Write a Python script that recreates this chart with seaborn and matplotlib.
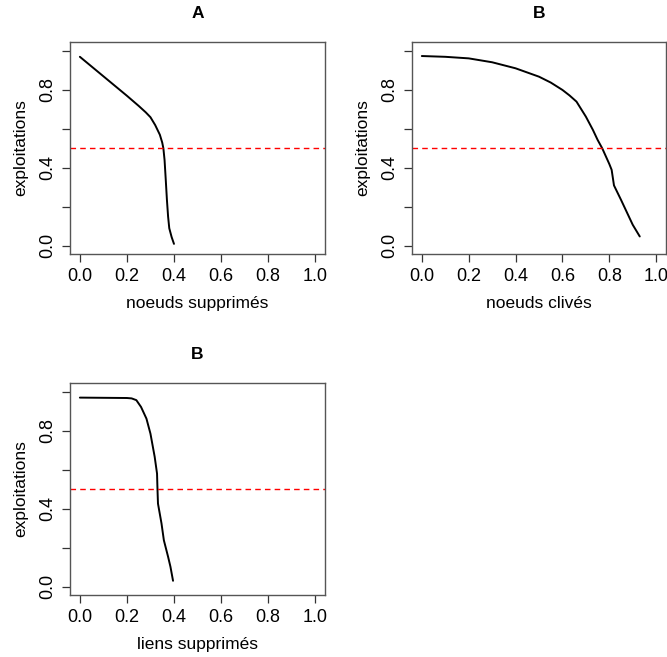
import numpy as np
import pandas as pd
import matplotlib
matplotlib.use("Agg")
import matplotlib.pyplot as plt
import seaborn as sns

sns.set_style("ticks")
plt.rcParams['font.family'] = ['Liberation Sans', 'DejaVu Sans']
plt.rcParams['text.color'] = 'black'
plt.rcParams['axes.labelcolor'] = 'black'
plt.rcParams['xtick.color'] = 'black'
plt.rcParams['ytick.color'] = 'black'

# Panel A : noeuds supprimés
a_x = [0.0, 0.05, 0.10, 0.15, 0.20, 0.25, 0.28, 0.30, 0.32, 0.34, 0.35, 0.355, 0.36, 0.365, 0.37, 0.375, 0.38, 0.39, 0.40]
a_y = [0.97, 0.92, 0.87, 0.82, 0.77, 0.718, 0.685, 0.66, 0.62, 0.57, 0.53, 0.50, 0.44, 0.34, 0.236, 0.15, 0.09, 0.045, 0.01]

# Panel B : noeuds clivés
b_x = [0.0, 0.1, 0.2, 0.3, 0.4, 0.5, 0.55, 0.6, 0.63, 0.66, 0.70, 0.73, 0.75, 0.77, 0.80, 0.81, 0.82, 0.85, 0.90, 0.93]
b_y = [0.974, 0.970, 0.962, 0.942, 0.911, 0.868, 0.838, 0.80, 0.772, 0.74, 0.663, 0.595, 0.544, 0.50, 0.42, 0.39, 0.31, 0.236, 0.108, 0.048]

# Panel C : liens supprimés
c_x = [0.0, 0.10, 0.20, 0.22, 0.24, 0.26, 0.283, 0.30, 0.318, 0.328, 0.330, 0.332, 0.347, 0.357, 0.375, 0.385, 0.396]
c_y = [0.971, 0.970, 0.969, 0.967, 0.958, 0.923, 0.863, 0.786, 0.667, 0.581, 0.496, 0.427, 0.325, 0.239, 0.154, 0.103, 0.031]

titles = ["A", "B", "B"]
xlabels = ["noeuds supprimés", "noeuds clivés", "liens supprimés"]
ylabel = "exploitations"
threshold = 0.5

W, H = 667, 657
fig = plt.figure(figsize=(W / 100, H / 100), dpi=100)

boxes = [(70, 42, 325, 254), (412, 42, 666, 254), (70, 383, 325, 595)]
datasets = [(a_x, a_y), (b_x, b_y), (c_x, c_y)]

for (l, t, r, b), (xs, ys), title, xl in zip(boxes, datasets, titles, xlabels):
    ax = fig.add_axes([l / W, 1 - b / H, (r - l) / W, (b - t) / H])
    df = pd.DataFrame({"x": xs, "y": ys})
    sns.lineplot(data=df, x="x", y="y", ax=ax, color="black", lw=1.4, sort=False)
    ax.axhline(threshold, color="red", ls=(0, (4, 3)), lw=1.0)
    ax.set_xlim(-0.042, 1.042)
    ax.set_ylim(-0.042, 1.046)
    ax.set_xticks([0, 0.2, 0.4, 0.6, 0.8, 1.0])
    ax.set_xticklabels(["0.0", "0.2", "0.4", "0.6", "0.8", "1.0"])
    ax.set_yticks([0, 0.2, 0.4, 0.6, 0.8, 1.0])
    ax.set_yticklabels(["0.0", "", "0.4", "", "0.8", ""], rotation=90, va="center")
    ax.tick_params(axis="both", labelsize=13, length=6, width=0.9, color="#333333", pad=4)
    for s in ax.spines.values():
        s.set_visible(True)
        s.set_color("#555555")
        s.set_linewidth(1.0)
    ax.set_title(title, fontsize=12.5, fontweight="bold", pad=17)
    ax.set_xlabel(xl, fontsize=12.5, labelpad=8)
    ax.set_ylabel(ylabel, fontsize=12.5, labelpad=8)

fig.savefig("out.png", dpi=100)
